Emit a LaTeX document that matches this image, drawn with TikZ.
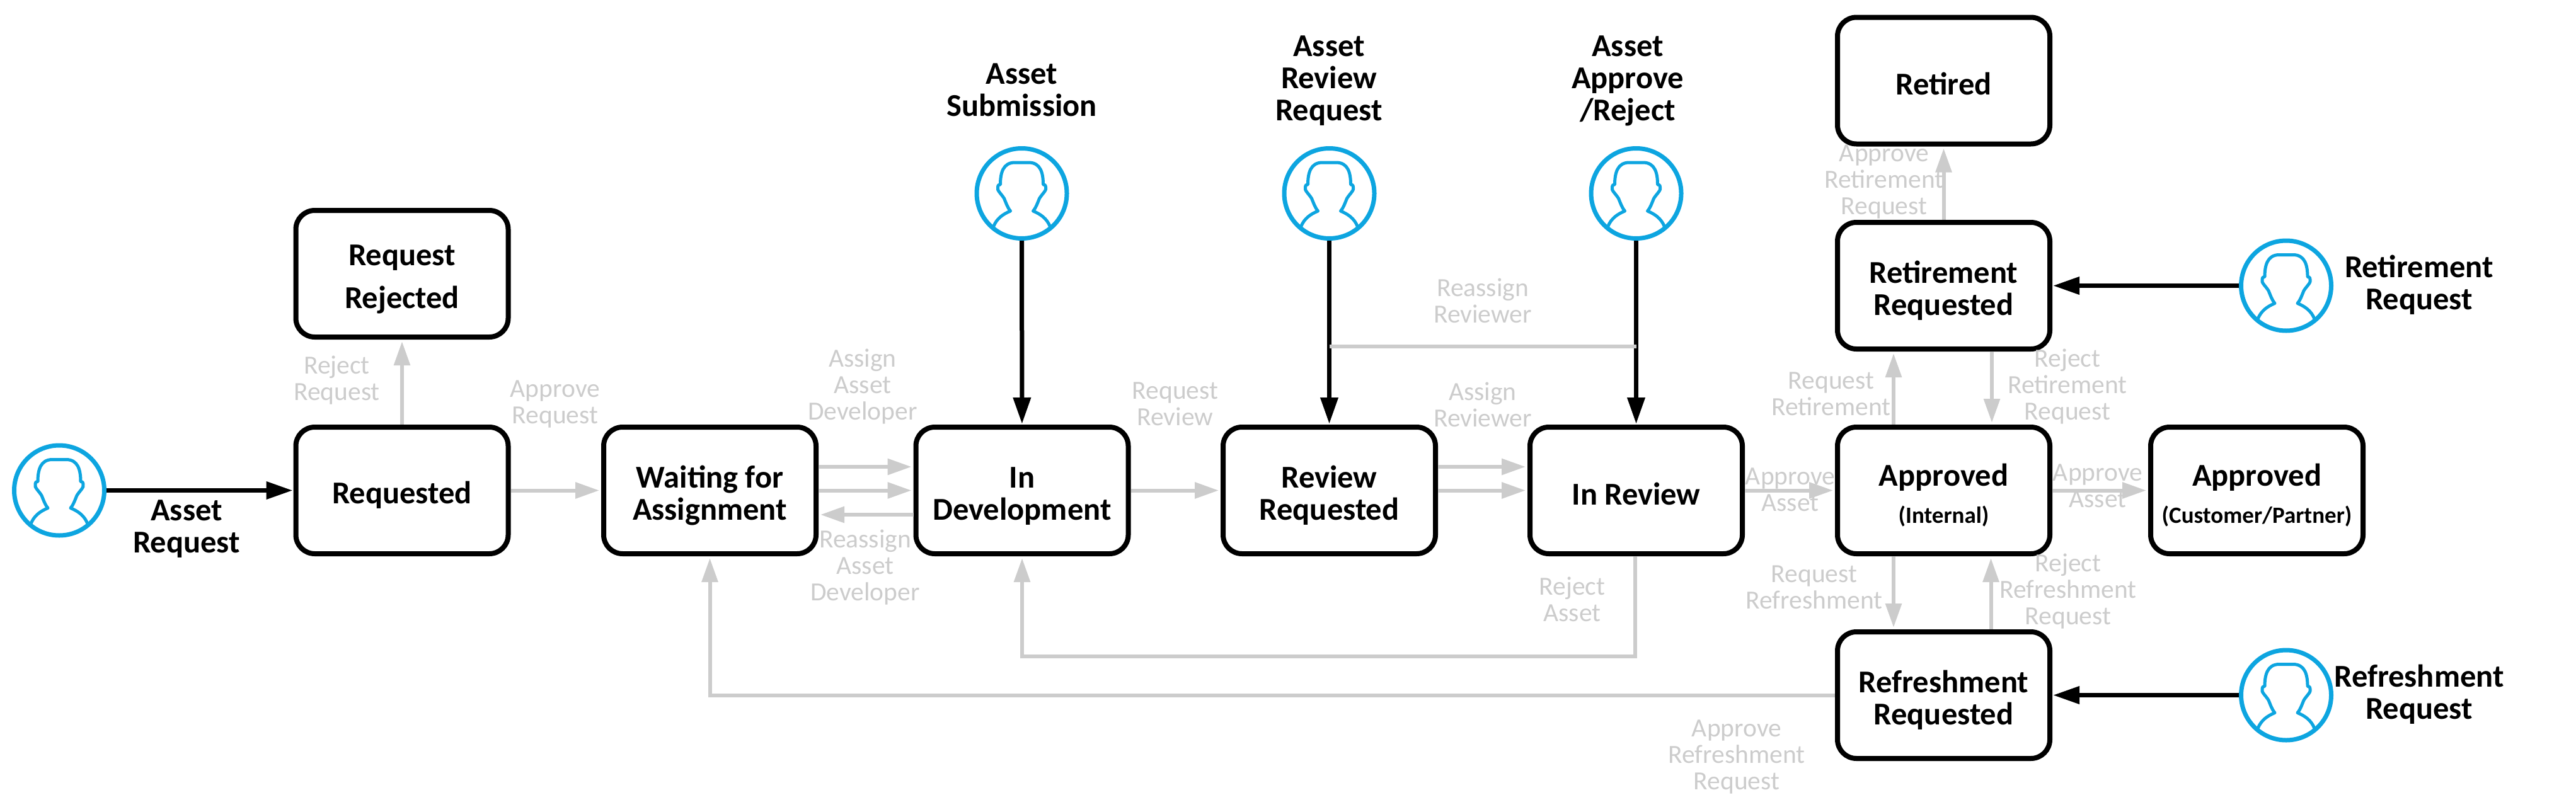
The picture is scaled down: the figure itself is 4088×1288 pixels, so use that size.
\documentclass[tikz,border=0pt]{standalone}
\usepackage{fontspec}
\setmainfont{Carlito}
\usetikzlibrary{arrows.meta,calc}
\definecolor{lgray}{HTML}{CCCCCC}
\definecolor{pblue}{HTML}{0DA5E0}
\newcommand{\leadin}{\rule{0pt}{51pt}}
\tikzset{
  x=1pt,y=-1pt,
  statebox/.style={draw=black,fill=white,line width=8pt,rounded corners=30pt,minimum width=337pt,minimum height=201pt,align=center,inner sep=0pt,font=\fontsize{50.5}{51}\selectfont\bfseries},
  oneq/.style={execute at begin node={\rule{0pt}{50pt}}},
  oneplain/.style={execute at begin node={\rule{0pt}{46pt}}},
  actor/.style={circle,draw=pblue,line width=7pt,fill=white,minimum size=143pt,inner sep=0pt},
  blk/.style={align=center,inner sep=0pt,font=\fontsize{50.5}{51}\selectfont\bfseries},
  gry/.style={align=center,inner sep=0pt,text=lgray,font=\fontsize{41.5}{42}\selectfont},
  flow/.style={draw=black,line width=7pt,-{Triangle[length=42pt,width=27pt]},shorten >=1pt},
  gflow/.style={draw=lgray,line width=6pt,-{Triangle[length=38pt,width=25pt]},shorten >=3pt},
  gline/.style={draw=lgray,line width=6pt}
}
\newcommand{\personicon}[1]{%
  \draw[pblue,line width=5pt,line join=round,shift={(#1.center)}]
   (-45,53) .. controls (-40,40) and (-30,33) .. (-18,28)
   .. controls (-23,22) and (-25,15) .. (-28,8)
   .. controls (-33,0) and (-40,-5) .. (-38,-10)
   .. controls (-38,-14) and (-35,-14) .. (-34,-14)
   .. controls (-34,-32) and (-30,-49) .. (-11,-49)
   -- (11,-49)
   .. controls (30,-49) and (34,-32) .. (34,-14)
   .. controls (35,-14) and (38,-14) .. (38,-10)
   .. controls (40,-5) and (33,0) .. (28,8)
   .. controls (25,15) and (23,22) .. (18,28)
   .. controls (30,33) and (40,40) .. (45,53);}
\begin{document}
\begin{tikzpicture}
\useasboundingbox (0,0) rectangle (4088,1288);
% state boxes
\node[statebox] (rej) at (638,434.5) {\leadin Request\\[17pt]Rejected};
\node[statebox,oneq] (req) at (638,778.5) {Requested};
\node[statebox] (wait) at (1126.5,778.5) {\leadin Waiting for\\Assignment};
\node[statebox] (dev) at (1622,778.5) {\leadin In\\Development};
\node[statebox] (rvq) at (2109.5,778.5) {\leadin Review\\Requested};
\node[statebox,oneplain] (inr) at (2596.5,778.5) {In Review};
\node[statebox] (app) at (3084.5,778.5) {\leadin Approved\\[8pt]{\fontsize{37}{38}\selectfont(Internal)}};
\node[statebox] (cus) at (3581.5,778.5) {\leadin Approved\\[8pt]{\fontsize{37}{38}\selectfont(Customer/Partner)}};
\node[statebox,oneplain] (ret) at (3084.5,128) {Retired};
\node[statebox] (rrq) at (3084.5,453.5) {\leadin Retirement\\Requested};
\node[statebox] (frq) at (3084.5,1103.5) {\leadin Refreshment\\Requested};
% actors
\node[actor] (p1) at (94,778.5) {};
\node[actor] (p2) at (1621.5,307) {};
\node[actor] (p3) at (2109.5,307) {};
\node[actor] (p4) at (2596.5,307) {};
\node[actor] (p5) at (3628,453.5) {};
\node[actor] (p6) at (3628,1103.5) {};
\personicon{p1}\personicon{p2}\personicon{p3}\personicon{p4}\personicon{p5}\personicon{p6}
% black connectors
\draw[flow] (p1) -- (req);
\draw[flow] (p2) -- (dev);
\draw[flow] (p3) -- (rvq);
\draw[flow] (p4) -- (inr);
\draw[flow] (p5) -- (rrq);
\draw[flow] (p6) -- (frq);
% gray connectors
\draw[gflow] (req) -- (rej);
\draw[gflow] (req) -- (wait);
\draw[gflow] ($(wait.east)+(0,-37.5)$) -- ($(dev.west)+(0,-37.5)$);
\draw[gflow] (wait) -- (dev);
\draw[gflow] ($(dev.west)+(0,38.5)$) -- ($(wait.east)+(0,38.5)$);
\draw[gflow] (dev) -- (rvq);
\draw[gflow] ($(rvq.east)+(0,-37.5)$) -- ($(inr.west)+(0,-37.5)$);
\draw[gflow] (rvq) -- (inr);
\draw[gflow] (inr) -- (app);
\draw[gflow] (app) -- (cus);
\draw[gflow] (rrq) -- (ret);
\draw[gflow] ($(app.north)+(-79.5,0)$) -- ($(rrq.south)+(-79.5,0)$);
\draw[gflow] ($(rrq.south)+(76.5,0)$) -- ($(app.north)+(76.5,0)$);
\draw[gflow] ($(app.south)+(-79.5,0)$) -- ($(frq.north)+(-79.5,0)$);
\draw[gflow] ($(frq.north)+(75,0)$) -- ($(app.south)+(75,0)$);
\coordinate (fa) at (2596.5,1042);
\draw[gflow] ($(inr.south)+(-2,0)$) -- ($(fa)+(-2,0)$) -| (dev.south);
\draw[gflow] (frq.west) -| (wait.south);
\coordinate (ra) at (2109.5,550);
\coordinate (rb) at (2596.5,550);
\draw[gline] (ra) -- (rb);
% black labels
\node[blk] (l1) at (296,840) {Asset\\Request};
\node[blk] (l2) at (1621.5,143) {Asset\\Submission};
\node[blk] (l3) at (2109,128) {Asset\\Review\\Request};
\node[blk] (l4) at (2583,128) {Asset\\Approve\\/Reject};
\node[blk] (l5) at (3839,452) {Retirement\\Request};
\node[blk] (l6) at (3839,1102) {Refreshment\\Request};
% gray labels
\node[gry] (g1) at (534.5,604) {Reject\\Request};
\node[gry] (g2) at (881,642) {Approve\\Request};
\node[gry] (g3) at (1369,614) {Assign\\Asset\\Developer};
\node[gry] (g4) at (1373,901) {Reassign\\Asset\\Developer};
\node[gry] (g5) at (1865,641) {Request\\Review};
\node[gry] (g6) at (2353,477) {Reassign\\Reviewer};
\node[gry] (g7) at (2353,642) {Assign\\Reviewer};
\node[gry] (g8) at (2841,777) {Approve\\Asset};
\node[gry] (g9) at (3329,771) {Approve\\Asset};
\node[gry] (g10) at (2495,951) {Reject\\Asset};
\node[gry] (g11) at (2879,932) {Request\\Refreshment};
\node[gry] (g12) at (3282,939) {Reject\\Refreshment\\Request};
\node[gry] (g13) at (2756,1202) {Approve\\Refreshment\\Request};
\node[gry] (g14) at (2990,289) {Approve\\Retirement\\Request};
\node[gry] (g15) at (2906,625) {Request\\Retirement};
\node[gry] (g16) at (3281,614) {Reject\\Retirement\\Request};
\end{tikzpicture}
\end{document}
